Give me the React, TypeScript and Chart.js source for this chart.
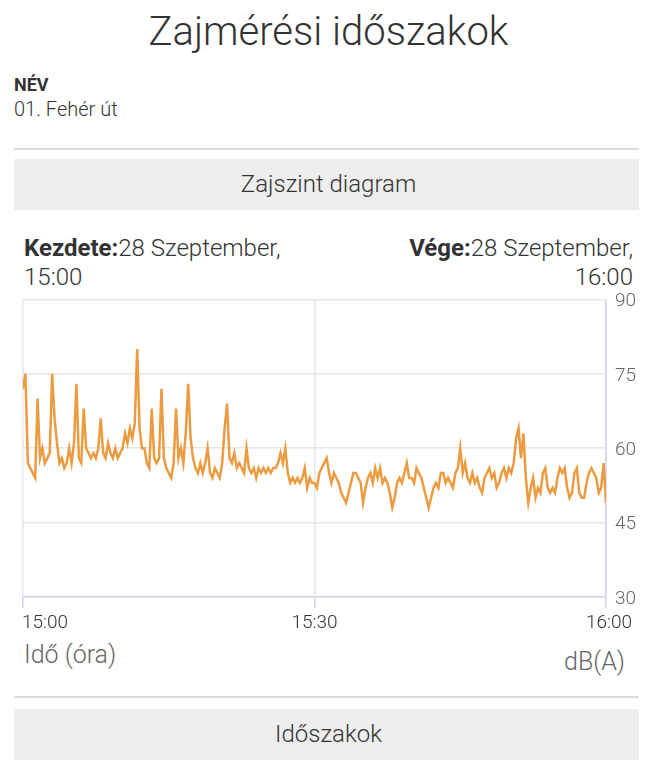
import React, { useEffect, useRef } from 'react';
import { Chart, registerables } from 'chart.js';

Chart.register(...registerables);

// ---- data ----
const startLabel = '15:00';
const endLabel = '16:00';
const timeTickMinutes = [0, 30, 60];
const timeTickLabels = ['15:00', '15:30', '16:00'];
const levelTicks = [30, 45, 60, 75, 90];
const sampleStepMinutes = 0.25; // one reading every 15 seconds
const levels = [
  72, 75, 57, 56, 55, 54, 70, 58, 60, 57,
  58, 59, 75, 66, 61, 57, 58, 56, 57, 60,
  57, 61, 73, 58, 57, 68, 60, 59, 58, 59,
  58, 60, 66, 59, 58, 61, 59, 58, 60, 58,
  59, 60, 63, 61, 64, 62, 65, 80, 64, 60,
  60, 57, 56, 68, 58, 57, 58, 72, 58, 56,
  55, 54, 57, 68, 58, 60, 57, 63, 73, 62,
  58, 56, 55, 57, 55, 57, 60, 55, 54, 56,
  55, 54, 57, 64, 69, 58, 57, 59, 56, 57,
  56, 55, 60, 56, 55, 56, 54, 56, 55, 56,
  55, 56, 55, 56, 56, 57, 59, 57, 60, 55,
  53, 54, 53, 54, 53, 54, 56, 52, 54, 53,
  53, 52, 55, 56, 57, 58, 55, 53, 55, 54,
  53, 51, 50, 49, 51, 53, 55, 55, 54, 53,
  49, 52, 54, 55, 53, 56, 54, 56, 53, 54,
  53, 51, 48, 50, 53, 54, 53, 55, 57, 54,
  54, 53, 56, 55, 54, 52, 50, 48, 50, 52,
  53, 52, 55, 55, 53, 54, 53, 52, 55, 56,
  60, 55, 57, 54, 53, 55, 53, 54, 52, 51,
  54, 55, 56, 54, 55, 52, 53, 55, 56, 54,
  56, 55, 57, 62, 64, 58, 63, 54, 49, 52,
  54, 50, 52, 51, 55, 56, 52, 51, 52, 51,
  54, 56, 55, 56, 52, 50, 51, 55, 56, 51,
  50, 50, 53, 55, 56, 55, 54, 51, 52, 57,
  49,
];

const FONT = 'Roboto, "Helvetica Neue", Arial, sans-serif';

const xLabelPlugin = {
  id: 'xLabels',
  afterDraw(chart: any) {
    const xs = chart.scales.x;
    const area = chart.chartArea;
    const ctx = chart.ctx;
    ctx.save();
    ctx.font = `300 19px ${FONT}`;
    ctx.fillStyle = '#333';
    ctx.textBaseline = 'alphabetic';
    timeTickMinutes.forEach((m, i) => {
      const px = xs.getPixelForValue(m);
      const last = i === timeTickMinutes.length - 1;
      ctx.textAlign = i === 0 ? 'left' : 'center';
      ctx.fillText(timeTickLabels[i], i === 0 ? px - 1 : px + (last ? 3 : 0), area.bottom + 31);
    });
    ctx.restore();
  },
};

function NoiseChart() {
  const ref = useRef<HTMLCanvasElement | null>(null);
  useEffect(() => {
    if (!ref.current) return;
    const points = levels.map((v, i) => ({ x: i * sampleStepMinutes, y: v }));
    const chart = new Chart(ref.current, {
      type: 'line',
      data: {
        datasets: [
          {
            data: points,
            borderColor: '#EC9B40',
            borderWidth: 2.5,
            pointRadius: 0,
            tension: 0,
            fill: false,
          },
        ],
      },
      options: {
        animation: false,
        responsive: true,
        maintainAspectRatio: false,
        layout: { padding: { left: 9, right: 0, top: 0, bottom: 0 } },
        plugins: { legend: { display: false }, tooltip: { enabled: false } },
        scales: {
          x: {
            type: 'linear',
            min: 0,
            max: 60,
            afterBuildTicks: (s: any) => {
              s.ticks = timeTickMinutes.map((v) => ({ value: v }));
            },
            afterFit: (s: any) => {
              s.height = 40;
            },
            ticks: { display: false },
            grid: { color: '#e6e6e6', tickColor: '#cdd6ee', tickLength: 11, lineWidth: 1.5 },
            border: { color: '#cdd6ee', width: 1.5 },
          },
          y: {
            position: 'right',
            min: 30,
            max: 90,
            afterBuildTicks: (s: any) => {
              s.ticks = levelTicks.map((v) => ({ value: v }));
            },
            afterFit: (s: any) => {
              s.width = 37;
            },
            ticks: {
              color: '#666',
              padding: 9,
              labelOffset: 2,
              font: { family: FONT, size: 19, weight: '300' as any },
            },
            grid: { color: '#e6e6e6', drawTicks: false, lineWidth: 1.5 },
            border: { color: '#cdd6ee', width: 1.5 },
          },
        },
      },
      plugins: [xLabelPlugin],
    });
    return () => chart.destroy();
  }, []);
  return <canvas ref={ref} />;
}

const abs = (top: number, extra: React.CSSProperties = {}): React.CSSProperties => ({
  position: 'absolute',
  top,
  left: 6,
  width: 629,
  margin: 0,
  fontFamily: FONT,
  ...extra,
});

export default function App() {
  return (
    <div style={{ position: 'relative', width: 639, height: 752, color: '#333', fontFamily: FONT }}>
      <div style={abs(0, { fontSize: 40, fontWeight: 300, lineHeight: '48px', textAlign: 'center', color: '#333' })}>
        Zajmérési időszakok
      </div>
      <div style={abs(67, { fontSize: 18, fontWeight: 700, lineHeight: '20px', color: '#333' })}>NÉV</div>
      <div style={abs(91, { fontSize: 20, fontWeight: 300, lineHeight: '20px', color: '#333' })}>01. Fehér út</div>
      <div style={abs(140, { height: 2, background: '#dddddd' })} />
      <div
        style={abs(151, {
          height: 51,
          background: '#eeeeee',
          fontSize: 24,
          fontWeight: 300,
          lineHeight: '51px',
          textAlign: 'center',
        })}
      >
        Zajszint diagram
      </div>
      <div style={abs(226, { left: 16, width: 609, fontSize: 24, fontWeight: 300, lineHeight: '29px' })}>
        <div style={{ float: 'left', textAlign: 'left' }}>
          <b style={{ fontWeight: 700 }}>Kezdete:</b>28 Szeptember,
          <br />
          {startLabel}
        </div>
        <div style={{ float: 'right', textAlign: 'right' }}>
          <b style={{ fontWeight: 700 }}>Vége:</b>28 Szeptember,
          <br />
          {endLabel}
        </div>
      </div>
      <div style={abs(271, { height: 358 })}>
        <NoiseChart />
      </div>
      <div style={abs(632, { left: 16, width: 609, fontSize: 25, fontWeight: 300, lineHeight: '29px', color: '#666' })}>
        <span>Idő (óra)</span>
        <span style={{ position: 'absolute', right: 8, top: 7 }}>dB(A)</span>
      </div>
      <div style={abs(688, { height: 2, background: '#dddddd' })} />
      <div
        style={abs(701, {
          height: 51,
          background: '#eeeeee',
          fontSize: 24,
          fontWeight: 300,
          lineHeight: '51px',
          textAlign: 'center',
        })}
      >
        Időszakok
      </div>
    </div>
  );
}
